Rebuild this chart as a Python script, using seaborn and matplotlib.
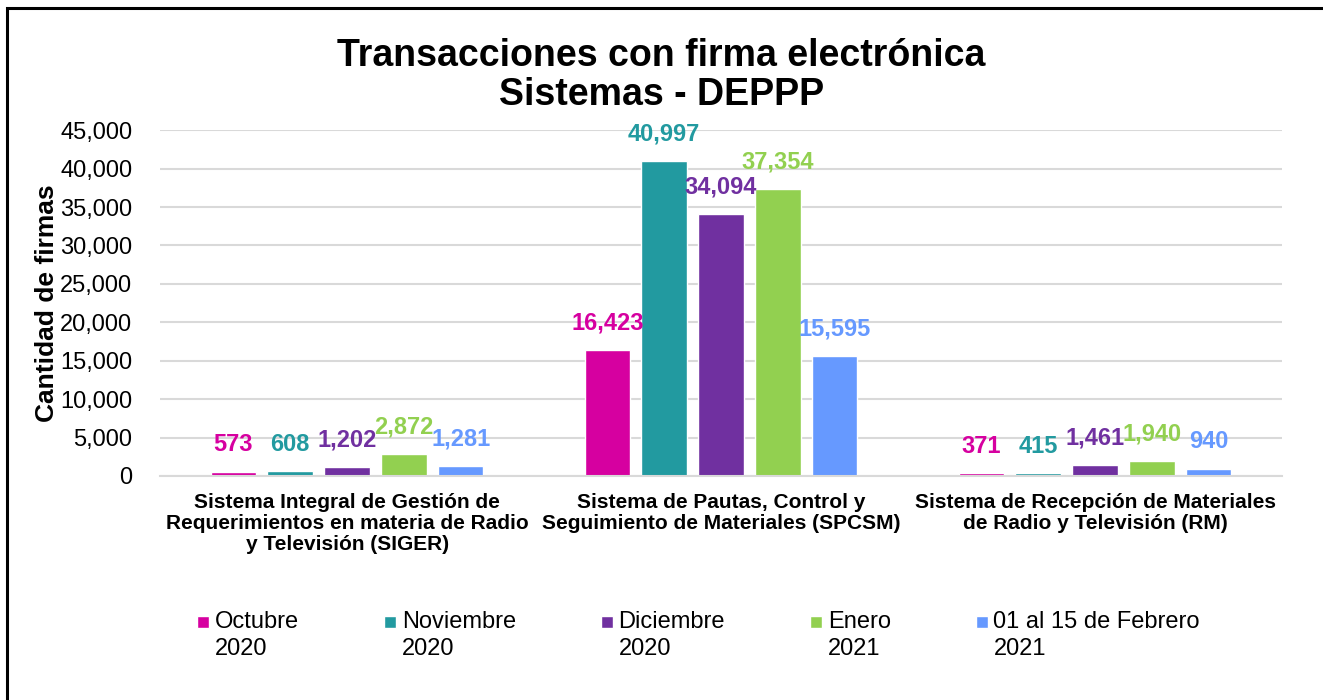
import matplotlib
matplotlib.use("Agg")
import matplotlib.pyplot as plt
import matplotlib.patches as mpatches
from matplotlib.legend_handler import HandlerPatch
import pandas as pd
import seaborn as sns
from matplotlib.ticker import FuncFormatter

# Data
sistemas = [
    "Sistema Integral de Gestión de\nRequerimientos en materia de Radio\ny Televisión (SIGER)",
    "Sistema de Pautas, Control y\nSeguimiento de Materiales (SPCSM)",
    "Sistema de Recepción de Materiales\nde Radio y Televisión (RM)",
]
periodos = ["Octubre\n2020", "Noviembre\n2020", "Diciembre\n2020", "Enero\n2021",
            "01 al 15 de Febrero\n2021"]
octubre = [573, 16423, 371]
noviembre = [608, 40997, 415]
diciembre = [1202, 34094, 1461]
enero = [2872, 37354, 1940]
febrero = [1281, 15595, 940]
colores = ["#D600A0", "#229AA0", "#7030A0", "#92D050", "#6699FF"]

series = [octubre, noviembre, diciembre, enero, febrero]
rows = []
for periodo, vals in zip(periodos, series):
    for s, v in zip(sistemas, vals):
        rows.append({"Sistema": s, "Periodo": periodo, "Firmas": v})
df = pd.DataFrame(rows)

sns.set_style("white")
plt.rcParams["font.family"] = ["Liberation Sans", "DejaVu Sans"]
plt.rcParams["text.color"] = "black"
plt.rcParams["xtick.color"] = "black"
plt.rcParams["ytick.color"] = "black"
plt.rcParams["axes.labelcolor"] = "black"

fig = plt.figure(figsize=(13.23, 7.0), dpi=100)
ax = fig.add_axes([0.121, 0.32, 0.848, 0.494])

sns.barplot(data=df, x="Sistema", y="Firmas", hue="Periodo", order=sistemas,
            hue_order=periodos, palette=colores, width=0.76, gap=0.2,
            saturation=1, ax=ax, legend=False)

ax.set_ylim(0, 45000)
ax.set_yticks(range(0, 45001, 5000))
ax.yaxis.set_major_formatter(FuncFormatter(lambda v, p: f"{int(v):,}"))
ax.grid(axis="y", color="#D9D9D9", linewidth=1.5)
ax.set_axisbelow(True)
for side in ["top", "right", "left"]:
    ax.spines[side].set_visible(False)
ax.spines["bottom"].set_color("#D9D9D9")
ax.spines["bottom"].set_linewidth(1.5)
ax.tick_params(axis="y", labelsize=17, length=0, pad=20)
ax.tick_params(axis="x", labelsize=15, length=0, pad=12)
for lbl in ax.get_xticklabels():
    lbl.set_fontweight("bold")
    lbl.set_linespacing(1.15)
ax.set_xlabel("")
ax.set_ylabel("Cantidad de firmas", fontsize=19, fontweight="bold", labelpad=1)

# value labels in the series colour
for cont, col in zip(ax.containers, colores):
    ax.bar_label(cont, labels=[f"{int(b.get_height()):,}" for b in cont],
                 padding=11, color=col, fontsize=17, fontweight="bold")

fig.text(0.5, 0.946, "Transacciones con firma electrónica\nSistemas - DEPPP",
         ha="center", va="top", fontsize=27, fontweight="bold", linespacing=1.12)


# square legend marker aligned with the first line of each label
def square(legend, orig_handle, xdescent, ydescent, width, height, fontsize):
    s = 0.52 * fontsize
    return mpatches.Rectangle((-xdescent, -ydescent + 0.62 * fontsize), s, s)


handles = [mpatches.Patch(facecolor=c) for c in colores]
leg = fig.legend(handles, periodos, loc="center", bbox_to_anchor=(0.528, 0.092), ncol=5,
                 frameon=False, fontsize=17, handlelength=0.5, handleheight=0.5,
                 handletextpad=0.25, columnspacing=3.6,
                 handler_map={mpatches.Patch: HandlerPatch(patch_func=square)})
for t in leg.get_texts():
    t.set_linespacing(1.3)

# frame drawn around the chart area (left and top edges visible)
fig.patches.append(mpatches.Rectangle((0.0055, -0.2), 1.2, 1.2 - 8 / 700,
                                      transform=fig.transFigure, fill=False,
                                      edgecolor="black", linewidth=2.2))

fig.savefig("out.png", dpi=100)
